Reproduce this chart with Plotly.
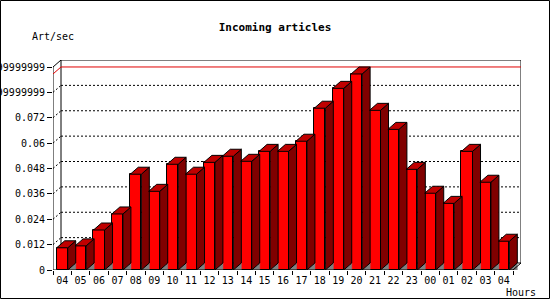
import plotly.graph_objects as go

hours = ["04", "05", "06", "07", "08", "09", "10", "11", "12", "13", "14", "15", "16",
         "17", "18", "19", "20", "21", "22", "23", "00", "01", "02", "03", "04"]
rates = [0.0105, 0.0114, 0.0189, 0.0265, 0.0453, 0.0372, 0.0500, 0.0453, 0.0509, 0.0538,
         0.0514, 0.0561, 0.0561, 0.0609, 0.0765, 0.0859, 0.0927, 0.0755, 0.0665, 0.0476,
         0.0363, 0.0315, 0.0561, 0.0415, 0.0136]
ytick_vals = [0, 0.012, 0.024, 0.036, 0.048, 0.06, 0.072, 0.084, 0.096]
ytick_text = ["0", "0.012", "0.024", "0.036", "0.048", "0.06", "0.072",
              "0.0839999999999999", "0.0959999999999999"]

FONT = "DejaVu Sans Mono"
W, H = 550, 300
L, R, T, B = 53, 29, 60, 30
plot_w = W - L - R
plot_h = H - T - B

n = len(hours)
xs = list(range(n))
ymax_tick = ytick_vals[-1]
y_top = ymax_tick * plot_h / (plot_h - 7)   # 7 px of depth above the top tick
dy = y_top - ymax_tick
dx_px = 8
x_unit_px = (plot_w - dx_px) / n
dx = dx_px / x_unit_px
x_lo, x_hi = -0.5, n - 0.5 + dx
bw = 0.6

fig = go.Figure()

def poly_trace(polys, fill, line_color="black", width=1):
    xx, yy = [], []
    for p in polys:
        for (a, b) in p:
            xx.append(a); yy.append(b)
        xx.append(p[0][0]); yy.append(p[0][1])
        xx.append(None); yy.append(None)
    return go.Scatter(x=xx, y=yy, mode="lines", fill="toself", fillcolor=fill,
                      line=dict(color=line_color, width=width), hoverinfo="skip",
                      showlegend=False)

def line_trace(xx, yy, color="black", dash=None, width=1):
    return go.Scatter(x=xx, y=yy, mode="lines", hoverinfo="skip", showlegend=False,
                      line=dict(color=color, width=width, dash=dash))

def seg(x0, y0, x1, y1, color="black", dash=None):
    return dict(type="line", xref="x", yref="y", x0=x0, y0=y0, x1=x1, y1=y1,
                layer="below", line=dict(color=color, width=1, dash=dash))

shapes = [dict(type="rect", xref="paper", yref="paper",
               x0=(0.5 - L) / plot_w, x1=(549.5 - L) / plot_w,
               y0=(T + plot_h - 298.5) / plot_h, y1=(T + plot_h - 0.5) / plot_h,
               line=dict(color="black", width=1), layer="below")]

# back plane grid lines (dotted) and wall marks
for v in ytick_vals[1:-1]:
    shapes.append(seg(-0.5 + dx, v + dy, n - 0.5 + dx, v + dy, dash="2px,2px"))
    shapes.append(seg(-0.5, v, -0.5 + dx, v + dy, dash="2px,2px"))

# back box
shapes.append(seg(-0.5 + dx, dy, -0.5 + dx, ymax_tick + dy))
shapes.append(seg(-0.5 + dx, ymax_tick + dy, n - 0.5 + dx, ymax_tick + dy))
shapes.append(seg(n - 0.5 + dx, dy, n - 0.5 + dx, ymax_tick + dy))
shapes.append(seg(-0.5 + dx, dy, n - 0.5 + dx, dy))
shapes.append(seg(-0.5, ymax_tick, -0.5 + dx, ymax_tick + dy))
shapes.append(seg(-0.5, 0, -0.5, ymax_tick))

# max line (red)
vmax = max(rates)
shapes.append(seg(-0.5, vmax, -0.5 + dx, vmax + dy, color="#e00000"))
shapes.append(seg(-0.5 + dx, vmax + dy, n - 0.5 + dx, vmax + dy, color="#e00000"))

# front faces
fig.add_trace(go.Bar(x=xs, y=rates, width=bw, marker=dict(color="#ff0000",
                     line=dict(color="black", width=1)), showlegend=False, hoverinfo="skip"))

# floor shading, side and top faces
shade, sides, tops = [], [], []
for x, v in zip(xs, rates):
    x0, x1 = x - bw / 2, x + bw / 2
    shade.append([(x1, 0), (x1 + dx, dy), (x1 + dx, 0)])
    sides.append([(x1, 0), (x1 + dx, dy), (x1 + dx, v + dy), (x1, v)])
    tops.append([(x0, v), (x1, v), (x1 + dx, v + dy), (x0 + dx, v + dy)])
fig.add_trace(poly_trace(shade, "#808080", line_color="#808080", width=0.5))
fig.add_trace(poly_trace(sides, "#800000"))
fig.add_trace(poly_trace(tops, "#c00000"))

# floor front line and right diagonal
fig.add_trace(line_trace([-0.5, n - 0.5, n - 0.5 + dx], [0, 0, dy]))

fig.update_layout(
    width=W, height=H, margin=dict(l=L, r=R, t=T, b=B, autoexpand=False),
    paper_bgcolor="white", plot_bgcolor="white",
    font=dict(family=FONT, size=10, color="black"),
    showlegend=False, bargap=0,
    title=dict(text="<b>Incoming articles</b>", x=275 / W, xanchor="center",
               y=1 - 27 / H, yanchor="middle", yref="container",
               font=dict(family=FONT, size=11, color="black")),
    xaxis=dict(range=[x_lo, x_hi], tickvals=xs, ticktext=hours, ticks="",
               showgrid=False, zeroline=False, showline=False, automargin=False,
               tickangle=0, ticklabelstandoff=3,
               minor=dict(tickvals=[i - 0.5 for i in range(n + 1)], ticks="outside",
                          ticklen=4, tickcolor="black", showgrid=False),
               tickfont=dict(family=FONT, size=10, color="black")),
    yaxis=dict(range=[0, y_top], tickvals=ytick_vals, ticktext=ytick_text,
               ticks="outside", ticklen=5, tickcolor="black", showgrid=False,
               zeroline=False, showline=False, automargin=False,
               tickfont=dict(family=FONT, size=10, color="black")),
    annotations=[
        dict(text="Art/sec", xref="paper", yref="paper", x=(30 - L) / plot_w,
             y=(T + plot_h - 37) / plot_h, xanchor="left", yanchor="middle",
             showarrow=False, font=dict(family=FONT, size=10, color="black")),
        dict(text="Hours", xref="paper", yref="paper", x=(504 - L) / plot_w,
             y=(T + plot_h - 292) / plot_h, xanchor="left", yanchor="middle",
             showarrow=False, font=dict(family=FONT, size=10, color="black")),
    ],
    shapes=shapes,
)

fig.write_html("out.html")
